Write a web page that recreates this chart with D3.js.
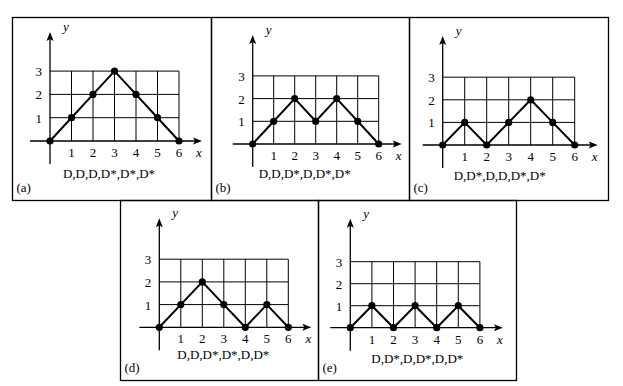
<!DOCTYPE html>
<html>
<head>
<meta charset="utf-8">
<script src="https://cdn.jsdelivr.net/npm/d3@7"></script>
<style>
  body { margin: 0; background: #fff; }
</style>
</head>
<body>
<svg id="chart" width="623" height="386"></svg>
<script>
// step index along x
var steps = [0, 1, 2, 3, 4, 5, 6];
// height of each path
var seriesA = [0, 1, 2, 3, 2, 1, 0];
var seriesB = [0, 1, 2, 1, 2, 1, 0];
var seriesC = [0, 1, 0, 1, 2, 1, 0];
var seriesD = [0, 1, 2, 1, 0, 1, 0];
var seriesE = [0, 1, 0, 1, 0, 1, 0];
var xTicks = [1, 2, 3, 4, 5, 6];
var yTicks = [1, 2, 3];
var captions = ["D,D,D,D*,D*,D*", "D,D,D*,D,D*,D*", "D,D*,D,D,D*,D*", "D,D,D*,D*,D,D*", "D,D*,D,D*,D,D*"];
var tags = ["(a)", "(b)", "(c)", "(d)", "(e)"];
var allSeries = [seriesA, seriesB, seriesC, seriesD, seriesE];

// panel frames and where the origin sits inside them
var panels = [
    {box: [12.5, 17.5, 211.5, 200.5], ox: 50, oy: 141, ux: 21.5, uy: 23.3, capX: 59, capY: 37},
    {box: [211.5, 17.5, 409.5, 200.5], ox: 252.7, oy: 144, ux: 21, uy: 22.7, capX: 52, capY: 34},
    {box: [409.5, 17.5, 608.5, 200.5], ox: 442.7, oy: 145, ux: 22, uy: 22.6, capX: 57, capY: 35},
    {box: [120.5, 200.5, 318.5, 380.5], ox: 159.3, oy: 327.3, ux: 21.5, uy: 22.7, capX: 64, capY: 32},
    {box: [318.5, 200.5, 516.5, 380.5], ox: 350.3, oy: 327.7, ux: 21.6, uy: 22, capX: 67, capY: 35}
];

var serif = "'Liberation Serif', 'Times New Roman', Times, serif";
var svg = d3.select("#chart");

function label(g, str, x, y, anchor, italic) {
    return g.append("text")
        .attr("x", x).attr("y", y)
        .attr("text-anchor", anchor)
        .attr("font-family", serif)
        .attr("font-size", 13)
        .attr("font-style", italic ? "italic" : "normal")
        .attr("fill", "#000")
        .text(str);
}

panels.forEach(function (p, i) {
    var g = svg.append("g");
    var b = p.box;

    g.append("rect")
        .attr("x", b[0]).attr("y", b[1])
        .attr("width", b[2] - b[0]).attr("height", b[3] - b[1])
        .attr("fill", "none").attr("stroke", "#000").attr("stroke-width", 1.3);

    var x = d3.scaleLinear().domain([0, 6]).range([p.ox, p.ox + 6 * p.ux]);
    var y = d3.scaleLinear().domain([0, 3]).range([p.oy, p.oy - 3 * p.uy]);

    // grid
    g.selectAll(".vg").data(steps.slice(1)).enter().append("line")
        .attr("x1", function (d) { return x(d); })
        .attr("x2", function (d) { return x(d); })
        .attr("y1", y(0)).attr("y2", y(3))
        .attr("stroke", "#000").attr("stroke-width", 1);
    g.selectAll(".hg").data(yTicks).enter().append("line")
        .attr("x1", x(0)).attr("x2", x(6))
        .attr("y1", function (d) { return y(d); })
        .attr("y2", function (d) { return y(d); })
        .attr("stroke", "#000").attr("stroke-width", 1);

    // axes with arrow heads
    var xEnd = x(6) + 23, yEnd = p.oy - 109;
    g.append("line")
        .attr("x1", p.ox - 20).attr("x2", xEnd - 4)
        .attr("y1", p.oy).attr("y2", p.oy)
        .attr("stroke", "#000").attr("stroke-width", 1.3);
    g.append("line")
        .attr("x1", p.ox).attr("x2", p.ox)
        .attr("y1", p.oy + 23).attr("y2", yEnd + 4)
        .attr("stroke", "#000").attr("stroke-width", 1.3);
    g.append("path")
        .attr("d", "M" + xEnd + "," + p.oy + "L" + (xEnd - 9) + "," + (p.oy - 3.5) +
            "L" + (xEnd - 7) + "," + p.oy + "L" + (xEnd - 9) + "," + (p.oy + 3.5) + "Z")
        .attr("fill", "#000");
    g.append("path")
        .attr("d", "M" + p.ox + "," + yEnd + "L" + (p.ox - 3.5) + "," + (yEnd + 9) +
            "L" + p.ox + "," + (yEnd + 7) + "L" + (p.ox + 3.5) + "," + (yEnd + 9) + "Z")
        .attr("fill", "#000");

    // tick labels
    xTicks.forEach(function (d) { label(g, d, x(d), p.oy + 16, "middle"); });
    yTicks.forEach(function (d) { label(g, d, p.ox - 8, y(d) + 5, "end"); });
    label(g, "x", x(6) + 20, p.oy + 16, "middle", true);
    label(g, "y", p.ox + 13, p.oy - 110, "start", true);

    // path and points
    var data = steps.map(function (s, k) { return [s, allSeries[i][k]]; });
    var line = d3.line()
        .x(function (d) { return x(d[0]); })
        .y(function (d) { return y(d[1]); });
    g.append("path")
        .attr("d", line(data))
        .attr("fill", "none").attr("stroke", "#000").attr("stroke-width", 2);
    g.selectAll(".pt").data(data).enter().append("circle")
        .attr("cx", function (d) { return x(d[0]); })
        .attr("cy", function (d) { return y(d[1]); })
        .attr("r", 3.6)
        .attr("fill", "#000");

    label(g, captions[i], p.ox + p.capX, p.oy + p.capY, "middle");
    label(g, tags[i], b[0] + 4, b[3] - 9, "start");
});
</script>
</body>
</html>
